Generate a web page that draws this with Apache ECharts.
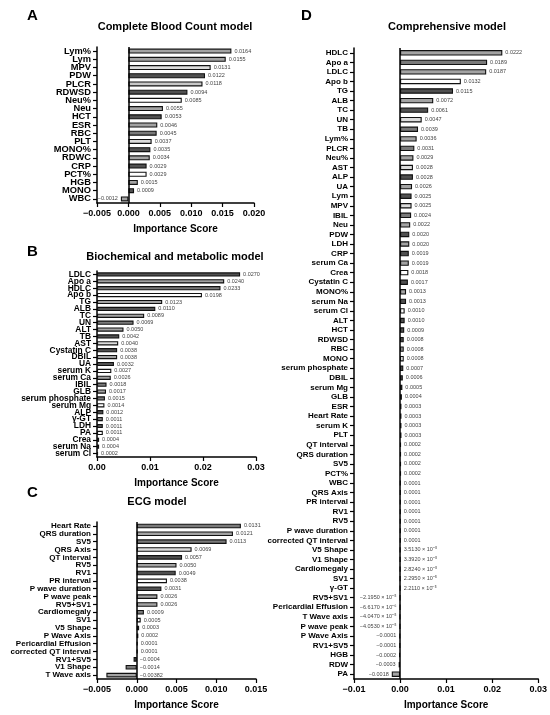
<!DOCTYPE html>
<html><head><meta charset="utf-8">
<script src="https://cdn.jsdelivr.net/npm/echarts@6/dist/echarts.min.js"></script>
<style>html,body{margin:0;padding:0;background:#fff}#c{width:550px;height:715px}</style>
</head><body><div id="c"></div>
<script>
// ---------- DATA ----------
const catsA = ['Lym%','Lym','MPV','PDW','PLCR','RDWSD','Neu%','Neu','HCT','ESR','RBC','PLT','MONO%','RDWC','CRP','PCT%','HGB','MONO','WBC'];
const valsA = [0.0164,0.0155,0.0131,0.0122,0.0118,0.0094,0.0085,0.0055,0.0053,0.0046,0.0045,0.0037,0.0035,0.0034,0.0029,0.0029,0.0015,0.0009,-0.0012];

const catsB = ['LDLC','Apo a','HDLC','Apo b','TG','ALB','TC','UN','ALT','TB','AST','Cystatin C','DBIL','UA','serum K','serum Ca','IBIL','GLB','serum phosphate','serum Mg','ALP','γ-GT','LDH','PA','Crea','serum Na','serum Cl'];
const valsB = [0.0270,0.0240,0.0233,0.0198,0.0123,0.0110,0.0089,0.0069,0.0050,0.0042,0.0040,0.0038,0.0038,0.0032,0.0027,0.0026,0.0018,0.0017,0.0015,0.0014,0.0012,0.0011,0.0011,0.0011,0.0004,0.0004,0.0002];

const catsC = ['Heart Rate','QRS duration','SV5','QRS Axis','QT interval','RV5','RV1','PR interval','P wave duration','P wave peak','RV5+SV1','Cardiomegaly','SV1','V5 Shape','P Wave Axis','Pericardial Effusion','corrected QT interval','RV1+SV5','V1 Shape','T Wave axis'];
const valsC = [0.0131,0.0121,0.0113,0.0069,0.0057,0.0050,0.0049,0.0038,0.0031,0.0026,0.0026,0.0009,0.0005,0.0003,0.0002,0.0001,0.0001,-0.0004,-0.0014,-0.00382];

const catsD = ['HDLC','Apo a','LDLC','Apo b','TG','ALB','TC','UN','TB','Lym%','PLCR','Neu%','AST','ALP','UA','Lym','MPV','IBIL','Neu','PDW','LDH','CRP','serum Ca','Crea','Cystatin C','MONO%','serum Na','serum Cl','ALT','HCT','RDWSD','RBC','MONO','serum phosphate','DBIL','serum Mg','GLB','ESR','Heart Rate','serum K','PLT','QT interval','QRS duration','SV5','PCT%','WBC','QRS Axis','PR interval','RV1','RV5','P wave duration','corrected QT interval','V5 Shape','V1 Shape','Cardiomegaly','SV1','γ-GT','RV5+SV1','Pericardial Effusion','T Wave axis','P wave peak','P Wave Axis','RV1+SV5','HGB','RDW','PA'];
const valsD = [0.0222,0.0189,0.0187,0.0132,0.0115,0.0072,0.0061,0.0047,0.0039,0.0036,0.0031,0.0029,0.0028,0.0028,0.0026,0.0025,0.0025,0.0024,0.0022,0.0020,0.0020,0.0019,0.0019,0.0018,0.0017,0.0013,0.0013,0.0010,0.0010,0.0009,0.0008,0.0008,0.0008,0.0007,0.0006,0.0005,0.0004,0.0003,0.0003,0.0003,0.0003,0.0002,0.0002,0.0002,0.0002,0.0001,0.0001,0.0001,0.0001,0.0001,0.0001,0.0001,3.5130e-5,3.3920e-5,2.8240e-5,2.2950e-5,2.2110e-5,-2.1950e-5,-6.6170e-6,-4.0470e-5,-4.0530e-5,-0.0001,-0.0001,-0.0002,-0.0003,-0.0018];

const titles = ['Complete Blood Count model','Biochemical and metabolic model','ECG model','Comprehensive model'];
const panelLetters = ['A','B','C','D'];
const axisName = 'Importance Score';

// ---------- STYLES ----------
const W='#ffffff', L='#dcdcdc', M='#a3a3a3', D1='#7a7a7a', D='#505050', K='#2a2a2a';
const colorsA = [M,M,L,D,'#c8c8c8',D,W,M,D,M,D1,L,D,M,D,W,M,D,M];
const colorsB = [D,M,D1,W,M,D,M,D1,M,D,L,D,M,D,W,M,D1,M,D1,W,D,D1,D,W,D,D,W];
const colorsC = [D1,M,D1,L,D,M,D,W,D,M,M,D1,W,D,M,M,M,D,D1,M];
const colorsD = [M,D1,M,W,D,M,D,L,D1,M,D1,M,L,D,M,D,L,D1,M,D,M,D,M,W,D,M,D,W,D,D,D,M,W,D,D,K];
while (colorsD.length < catsD.length - 1) colorsD.push(D);
colorsD.push(M);

const FF = '"Liberation Sans", Arial, Helvetica, sans-serif';

function fmtVal(v){
  const a = Math.abs(v), s = v < 0 ? '−' : '';
  if (a >= 0.0001 - 1e-12 || a === 0) {
    const r = a * 1e4;
    if (Math.abs(r - Math.round(r)) < 1e-6) return s + a.toFixed(4);
    return s + a.toFixed(5);
  }
  const e = Math.floor(Math.log10(a));
  const m = a / Math.pow(10, e);
  const sup = {'-':'⁻','0':'⁰','1':'¹','2':'²','3':'³','4':'⁴','5':'⁵','6':'⁶','7':'⁷','8':'⁸','9':'⁹'};
  return s + m.toFixed(4) + ' × 10' + String(e).split('').map(c => sup[c]).join('');
}

const panels = [
  {cats:catsA, vals:valsA, cols:colorsA, grid:{left:97, top:47, width:157, height:156}, min:-0.005, max:0.020, step:0.005, dec:3, font:9.3, bw:5, negPos:'left', zero:true},
  {cats:catsB, vals:valsB, cols:colorsB, grid:{left:97, top:271, width:159, height:186}, min:0, max:0.03, step:0.01, dec:2, font:8.4, bw:4.2, negPos:'left', zero:false},
  {cats:catsC, vals:valsC, cols:colorsC, grid:{left:97, top:522, width:159, height:157}, min:-0.005, max:0.015, step:0.005, dec:3, font:8, bw:4.6, negPos:'right', zero:true},
  {cats:catsD, vals:valsD, cols:colorsD, grid:{left:354, top:48, width:185, height:631}, min:-0.01, max:0.03, step:0.01, dec:2, font:8, bw:5.4, negPos:'left', zero:true}
];

const grids = [], xAxes = [], yAxes = [], series = [];
panels.forEach((p, i) => {
  grids.push(Object.assign({containLabel:false}, p.grid));
  xAxes.push({
    type:'value', gridIndex:i, min:p.min, max:p.max, interval:p.step,
    splitLine:{show:false},
    axisLine:{show:true, onZero:false, lineStyle:{color:'#000', width:1.5}},
    axisTick:{show:true, length:4, lineStyle:{color:'#000', width:1.2}},
    axisLabel:{margin:6, fontSize:9, fontWeight:'bold', color:'#000', fontFamily:FF,
      formatter: v => (v < -1e-12 ? '−' : '') + Math.abs(v).toFixed(p.dec)},
    name:axisName, nameLocation:'middle', nameGap:21,
    nameTextStyle:{fontSize:10, fontWeight:'bold', color:'#000', fontFamily:FF}
  });
  yAxes.push({
    type:'category', gridIndex:i, data:p.cats, inverse:true,
    axisLine:{show:true, onZero:false, lineStyle:{color:'#000', width:1.5}},
    axisTick:{show:true, length:4, alignWithLabel:true, interval:0, lineStyle:{color:'#000', width:1.2}},
    axisLabel:{interval:0, margin:6, fontSize:p.font, fontWeight:'bold', color:'#000', fontFamily:FF}
  });
  series.push({
    type:'bar', xAxisIndex:i, yAxisIndex:i, barWidth:p.bw,
    data:p.vals.map((v, j) => ({
      value:v,
      itemStyle:{color:p.cols[j], borderColor:'#111', borderWidth:1.1},
      label:{position: v < 0 ? p.negPos : 'right'}
    })),
    label:{show:true, distance:3, fontSize:5.5, color:'#444', fontFamily:FF, formatter: q => fmtVal(q.value)},
    emphasis:{disabled:true},
    markLine: p.zero ? {silent:true, symbol:['none','none'], animation:false,
      label:{show:false}, lineStyle:{color:'#000', width:1.5, type:'solid'}, data:[{xAxis:0}]} : undefined
  });
});

const graphics = [];
const titlePos = [[175,27],[175,257],[157,502],[447,27]];
const letterPos = [[27,16],[27,252],[27,493],[301,16]];
titles.forEach((t, i) => {
  graphics.push({type:'text', x:titlePos[i][0], y:titlePos[i][1],
    style:{text:t, font:'bold 11px ' + FF, fill:'#000', align:'center', verticalAlign:'middle'}});
  graphics.push({type:'text', x:letterPos[i][0], y:letterPos[i][1],
    style:{text:panelLetters[i], font:'bold 15px ' + FF, fill:'#000', align:'left', verticalAlign:'middle'}});
});

const chart = echarts.init(document.getElementById('c'), null, {renderer:'canvas'});
chart.setOption({
  animation:false,
  backgroundColor:'#fff',
  grid:grids, xAxis:xAxes, yAxis:yAxes, series:series, graphic:graphics
});
</script></body></html>
